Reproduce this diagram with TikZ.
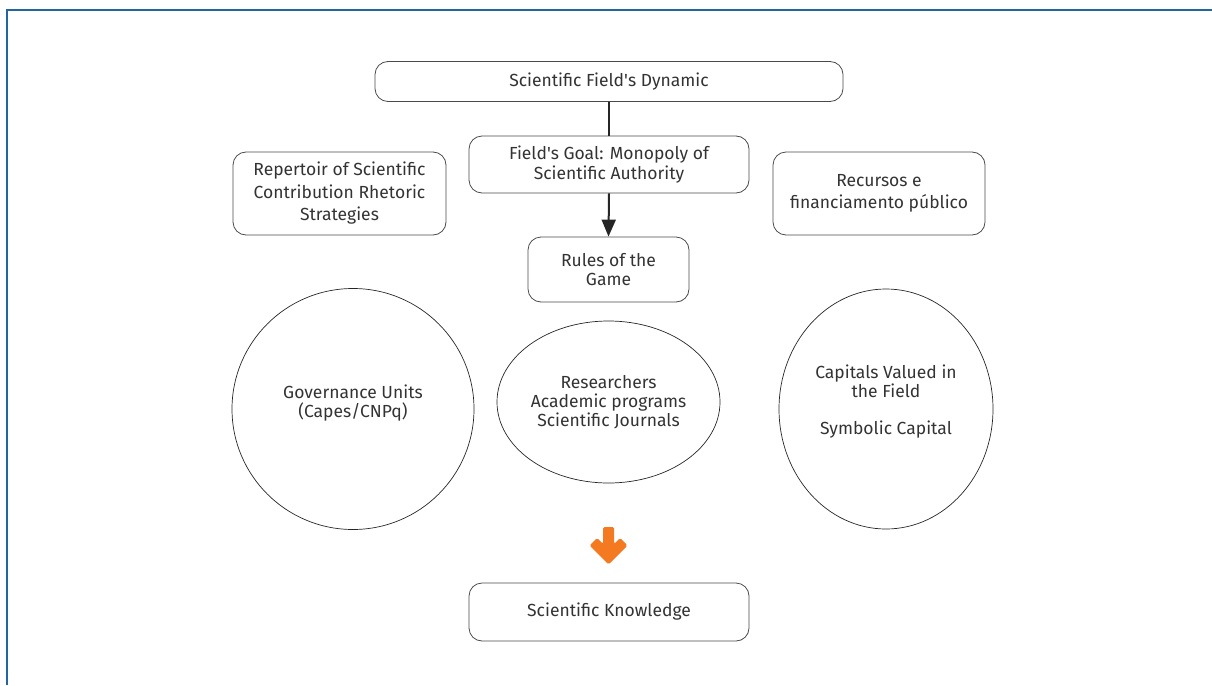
\documentclass[tikz,border=0pt]{standalone}
\usepackage{fontspec}
\setmainfont{Fira Sans}
\usetikzlibrary{arrows.meta,shapes.geometric}
\definecolor{framecol}{HTML}{22669F}
\definecolor{txt}{HTML}{333333}
\definecolor{boxline}{HTML}{4A4A4A}
\definecolor{orangearr}{HTML}{F47A22}
\newcommand{\apo}{\textquotesingle}
\tikzset{
  rbox/.style={draw=boxline, line width=0.8pt, rounded corners=13pt, align=center,
    text=txt, font=\fontsize{17.5}{22.5}\selectfont, inner sep=0pt},
  tightbox/.style={rbox, font=\fontsize{17.5}{19.5}\selectfont},
  oval/.style={draw=black!85, line width=0.7pt, ellipse, align=center,
    text=txt, font=\fontsize{17.5}{19}\selectfont, inner sep=0pt},
  conn/.style={line width=2pt, draw=black!85},
}
\begin{document}
\begin{tikzpicture}[x=1pt,y=-1pt]
\useasboundingbox (0,0) rectangle (1212,685);
% frame
\draw[framecol, line width=2pt] (7,685) -- (7,10) -- (1212,10);
% boxes
\node[rbox, minimum width=468pt, minimum height=40pt] (dyn) at (609,81.5) {Scientific Field\apo s Dynamic};
\node[tightbox, minimum width=280pt, minimum height=57pt] (goal) at (609,164.5) {Field\apo s Goal: Monopoly of\\Scientific Authority};
\node[tightbox, minimum width=161pt, minimum height=65pt] (rules) at (608.5,269.5) {Rules of the\\Game};
\node[rbox, minimum width=213pt, minimum height=83pt] (rep) at (339.5,193.5) {Repertoir of Scientific\\Contribution Rhetoric\\Strategies};
\node[rbox, minimum width=212pt, minimum height=83pt] (rec) at (879,193.5) {Recursos e\\financiamento público};
\node[rbox, minimum width=280pt, minimum height=58pt] (know) at (609,612) {Scientific Knowledge};
% ovals
\node[oval, minimum width=242pt, minimum height=241pt, text depth=16pt] (gov) at (353,409) {Governance Units\\(Capes/CNPq)};
\node[oval, minimum width=223pt, minimum height=162pt] (res) at (608.5,402) {Researchers\\Academic programs\\Scientific Journals};
\node[oval, minimum width=214pt, minimum height=240pt, text depth=18pt] (cap) at (886,409) {Capitals Valued in\\the Field\\[18pt]Symbolic Capital};
% connectors
\draw[conn] (dyn.south) -- (goal.north);
\draw[conn, -{Triangle[width=14pt,length=17pt]}] (goal.south) -- (rules.north);
% orange arrow
\fill[orangearr, rounded corners=1.5pt] (603,527) -- (614,527) -- (614,544) -- (620,538) -- (627.5,545.5)
  -- (608.5,564.5) -- (589.5,545.5) -- (597,538) -- (603,544) -- cycle;
\end{tikzpicture}
\end{document}
